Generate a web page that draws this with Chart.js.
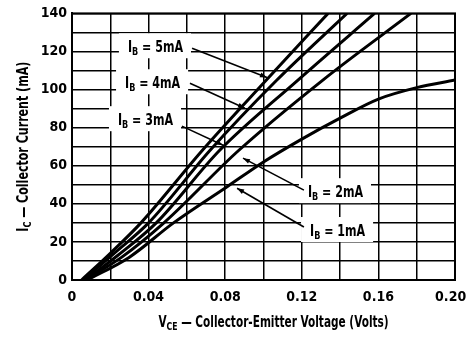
<!DOCTYPE html>
<html>
<head>
<meta charset="utf-8">
<script src="https://cdn.jsdelivr.net/npm/chart.js@4/dist/chart.umd.min.js"></script>
<style>
  html, body { margin: 0; padding: 0; background: #fff; }
  canvas { display: block; }
</style>
</head>
<body>
<canvas id="icChart" width="468" height="339"></canvas>
<script>
// base current levels and their curves (Vce in volts, Ic in mA)
const ibLevels = ['1mA', '2mA', '3mA', '4mA', '5mA'];

const vce1 = [0.008, 0.030, 0.053, 0.081, 0.100, 0.120, 0.140, 0.160, 0.180, 0.200];
const ic1  = [0, 12, 30, 49, 62, 74, 85, 95, 101, 105];

const vce2 = [0.007, 0.026, 0.048, 0.087, 0.131, 0.177];
const ic2  = [0, 12, 30, 68, 105, 140];

const vce3 = [0.007, 0.024, 0.044, 0.077, 0.118, 0.158];
const ic3  = [0, 13, 30, 68, 105, 140];

const vce4 = [0.006, 0.022, 0.040, 0.072, 0.107, 0.1436];
const ic4  = [0, 14, 30, 68, 105, 140];

const vce5 = [0.005, 0.020, 0.036, 0.068, 0.1015, 0.1337];
const ic5  = [0, 14, 30, 68, 105, 140];

const xTickLabels = ['0', '0.04', '0.08', '0.12', '0.16', '0.20'];
const yTickLabels = ['0', '20', '40', '60', '80', '100', '120', '140'];

// callouts: text anchor and arrow (from -> to), in data units
const callouts = [
  { level: '5mA', at: [0.0292, 119.6], from: [0.0627, 121.7], to: [0.1018, 106.4] },
  { level: '4mA', at: [0.0277, 100.7], from: [0.0616, 103.3], to: [0.0903, 90.2] },
  { level: '3mA', at: [0.0240, 81.3],  from: [0.0574, 80.8],  to: [0.0789, 70.8] },
  { level: '2mA', at: [0.1232, 43.5],  from: [0.1211, 47.2],  to: [0.0893, 64.0] },
  { level: '1mA', at: [0.1243, 23.1],  from: [0.1211, 27.8],  to: [0.0862, 48.2] }
];

const FONT = "'Liberation Sans Narrow', 'DejaVu Sans Condensed', 'Liberation Sans', Arial, sans-serif";

function pts(xs, ys) {
  return xs.map((v, i) => ({ x: v, y: ys[i] }));
}

// text with subscripts, squeezed horizontally: parts = [[text, isSub], ...]
function measureParts(ctx, parts, size, sx) {
  let w = 0;
  parts.forEach(p => {
    ctx.font = 'bold ' + (p[1] ? Math.round(size * 0.72) : size) + 'px ' + FONT;
    w += ctx.measureText(p[0]).width;
  });
  return w * sx;
}
function drawParts(ctx, parts, x, y, size, sx) {
  ctx.save();
  ctx.translate(x, y);
  ctx.scale(sx, 1);
  ctx.textBaseline = 'alphabetic';
  ctx.textAlign = 'left';
  let cx = 0;
  parts.forEach(p => {
    ctx.font = 'bold ' + (p[1] ? Math.round(size * 0.72) : size) + 'px ' + FONT;
    ctx.fillText(p[0], cx, p[1] ? 3 : 0);
    cx += ctx.measureText(p[0]).width;
  });
  ctx.restore();
}

function arrow(ctx, x1, y1, x2, y2) {
  ctx.beginPath();
  ctx.moveTo(x1, y1);
  ctx.lineTo(x2, y2);
  ctx.stroke();
  const a = Math.atan2(y2 - y1, x2 - x1);
  const len = 7, hw = 2.5;
  ctx.beginPath();
  ctx.moveTo(x2, y2);
  ctx.lineTo(x2 - len * Math.cos(a) + hw * Math.sin(a), y2 - len * Math.sin(a) - hw * Math.cos(a));
  ctx.lineTo(x2 - len * Math.cos(a) - hw * Math.sin(a), y2 - len * Math.sin(a) + hw * Math.cos(a));
  ctx.closePath();
  ctx.fill();
}

const extras = {
  id: 'extras',
  beforeDatasetsDraw(chart) {
    const { ctx, scales: { x, y } } = chart;
    ctx.save();
    ctx.fillStyle = '#000';
    ctx.strokeStyle = '#000';
    ctx.lineWidth = 1.6;
    callouts.forEach(c => {
      const parts = [['I', false], ['B', true], [' = ' + c.level, false]];
      const tx = x.getPixelForValue(c.at[0]);
      const ty = y.getPixelForValue(c.at[1]);
      const w = measureParts(ctx, parts, 15, 0.82);
      ctx.fillStyle = '#fff';
      ctx.fillRect(tx - 9, ty - 19, w + 17, 25);
      ctx.fillStyle = '#000';
      drawParts(ctx, parts, tx, ty, 15, 0.82);
      arrow(ctx, x.getPixelForValue(c.from[0]), y.getPixelForValue(c.from[1]),
                 x.getPixelForValue(c.to[0]), y.getPixelForValue(c.to[1]));
    });
    ctx.restore();
  },
  afterDraw(chart) {
    const { ctx, chartArea } = chart;
    ctx.save();
    ctx.fillStyle = '#000';
    ctx.strokeStyle = '#000';
    ctx.lineWidth = 2;
    ctx.strokeRect(chartArea.left, chartArea.top, chartArea.right - chartArea.left, chartArea.bottom - chartArea.top);

    // x title
    const xt = [['V', false], ['CE', true], [' \u2014 Collector-Emitter Voltage (Volts)', false]];
    const xw = measureParts(ctx, xt, 15, 0.78);
    const cx = (chartArea.left + chartArea.right) / 2 + 10;
    drawParts(ctx, xt, cx - xw / 2, 327, 15, 0.78);

    // y title
    const yt = [['I', false], ['C', true], [' \u2014 Collector Current (mA)', false]];
    const yw = measureParts(ctx, yt, 15, 0.82);
    ctx.translate(28, (chartArea.top + chartArea.bottom) / 2);
    ctx.rotate(-Math.PI / 2);
    drawParts(ctx, yt, -yw / 2, 0, 15, 0.82);
    ctx.restore();
  }
};

const curves = [
  pts(vce1, ic1), pts(vce2, ic2), pts(vce3, ic3), pts(vce4, ic4), pts(vce5, ic5)
];

new Chart(document.getElementById('icChart'), {
  type: 'scatter',
  data: {
    datasets: curves.map((d, i) => ({
      label: 'IB = ' + ibLevels[i],
      data: d,
      showLine: true,
      borderColor: '#000',
      borderWidth: 3,
      pointRadius: 0,
      cubicInterpolationMode: 'monotone'
    }))
  },
  options: {
    responsive: false,
    animation: false,
    layout: { padding: { left: 0, right: 0, top: 13, bottom: 0 } },
    plugins: { legend: { display: false }, tooltip: { enabled: false } },
    scales: {
      x: {
        type: 'linear',
        min: 0,
        max: 0.2,
        afterFit: s => { s.height = 59; s.paddingLeft = 0; s.paddingRight = 13; },
        afterBuildTicks: s => {
          s.ticks = [];
          for (let i = 0; i <= 10; i++) s.ticks.push({ value: i * 0.02 });
        },
        ticks: {
          color: '#000',
          padding: 9,
          maxRotation: 0,
          autoSkip: false,
          font: { family: FONT, size: 14, weight: 'bold' },
          // last label nudged left so it stays inside the page
          callback: (v, i) => (i % 2 === 0 ? xTickLabels[i / 2] + (i === 10 ? '  ' : '') : '')
        },
        grid: { color: '#000', lineWidth: 1.5, drawTicks: false },
        border: { color: '#000', width: 2 }
      },
      y: {
        min: 0,
        max: 140,
        afterFit: s => { s.width = 72; },
        ticks: {
          stepSize: 10,
          color: '#000',
          padding: 5,
          autoSkip: false,
          font: { family: FONT, size: 14, weight: 'bold' },
          callback: (v) => (v % 20 === 0 ? yTickLabels[v / 20] : '')
        },
        grid: { color: '#000', lineWidth: 1.5, drawTicks: false },
        border: { color: '#000', width: 2 }
      }
    }
  },
  plugins: [extras]
});
</script>
</body>
</html>
